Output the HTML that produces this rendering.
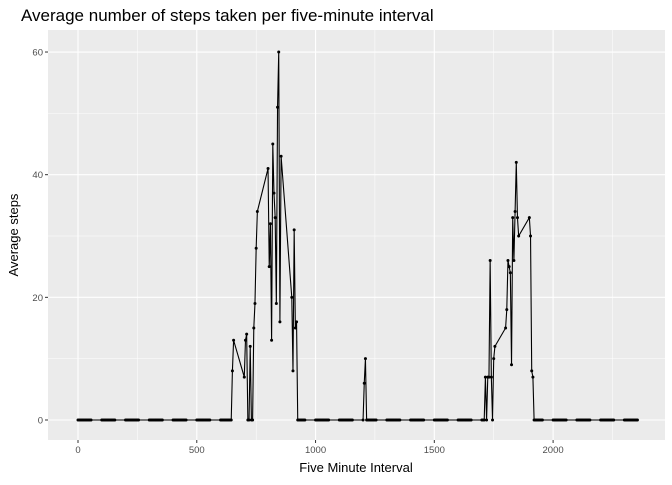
<!DOCTYPE html>
<html><head><meta charset="utf-8"><style>
body{margin:0;background:#fff;font-family:"Liberation Sans",sans-serif}
</style></head><body>
<svg id="c" width="672" height="480" xmlns="http://www.w3.org/2000/svg"></svg>
<script>
const hours=[0,1,2,3,4,5,6,7,8,9,10,11,12,13,14,15,16,17,18,19,20,21,22,23];
const minutes=[0,5,10,15,20,25,30,35,40,45,50,55];
const stepsByHour=[
[0,0,0,0,0,0,0,0,0,0,0,0],[0,0,0,0,0,0,0,0,0,0,0,0],[0,0,0,0,0,0,0,0,0,0,0,0],
[0,0,0,0,0,0,0,0,0,0,0,0],[0,0,0,0,0,0,0,0,0,0,0,0],[0,0,0,0,0,0,0,0,0,0,0,0],
[0,0,0,0,0,0,0,0,0,0,8,13],
[7,13,14,0,0,12,0,0,15,19,28,34],
[41,25,32,13,45,37,33,19,51,60,16,43],
[20,8,31,15,16,0,0,0,0,0,0,0],
[0,0,0,0,0,0,0,0,0,0,0,0],[0,0,0,0,0,0,0,0,0,0,0,0],
[0,6,10,0,0,0,0,0,0,0,0,0],
[0,0,0,0,0,0,0,0,0,0,0,0],[0,0,0,0,0,0,0,0,0,0,0,0],[0,0,0,0,0,0,0,0,0,0,0,0],[0,0,0,0,0,0,0,0,0,0,0,0],
[0,0,0,7,0,7,7,26,7,0,10,12],
[15,18,26,25,24,9,33,26,34,42,33,30],
[33,30,8,7,0,0,0,0,0,0,0,0],
[0,0,0,0,0,0,0,0,0,0,0,0],[0,0,0,0,0,0,0,0,0,0,0,0],[0,0,0,0,0,0,0,0,0,0,0,0],[0,0,0,0,0,0,0,0,0,0,0,0]];
const xTicks=[0,500,1000,1500,2000];
const yTicks=[0,20,40,60];

const svg=document.getElementById('c');
const NS='http://www.w3.org/2000/svg';
const L=48,R=665,T=30,B=440;
const xs=v=>78+v*0.23755;
const ys=v=>420-v*6.133;
function mk(tag,attrs,parent){const e=document.createElementNS(NS,tag);for(const k in attrs)e.setAttribute(k,attrs[k]);(parent||svg).appendChild(e);return e;}
const panel=mk('rect',{x:L,y:T,width:R-L,height:B-T,fill:'#EBEBEB'});


const grid=mk('g',{});


for(let i=0;i<xTicks.length;i++){const v=xTicks[i];
 mk('line',{x1:xs(v),x2:xs(v),y1:T,y2:B,stroke:'#fff','stroke-width':1.1},grid);
 mk('line',{x1:xs(v+250),x2:xs(v+250),y1:T,y2:B,stroke:'#fff','stroke-width':0.5},grid);}
for(let i=0;i<yTicks.length;i++){const v=yTicks[i];
 mk('line',{x1:L,x2:R,y1:ys(v),y2:ys(v),stroke:'#fff','stroke-width':1.1},grid);
 if(i<yTicks.length-1)mk('line',{x1:L,x2:R,y1:ys(v+10),y2:ys(v+10),stroke:'#fff','stroke-width':0.5},grid);}
const pts=[];
for(let h=0;h<hours.length;h++)for(let m=0;m<minutes.length;m++)pts.push([hours[h]*100+minutes[m],stepsByHour[h][m]]);
const line=mk('polyline',{points:pts.map(p=>xs(p[0])+','+ys(p[1])).join(' '),fill:'none',stroke:'#000','stroke-width':1.1});


const dots=mk('g',{});


for(const p of pts){const c=mk('circle',{cx:xs(p[0]),cy:ys(p[1]),r:1.5,fill:'#000'},dots);
 
 }
for(const v of xTicks){
 mk('line',{x1:xs(v),x2:xs(v),y1:B,y2:B+3,stroke:'#333'});
 const t=mk('text',{x:xs(v),y:B+13,'font-size':9.5,fill:'#4D4D4D','text-anchor':'middle'});t.textContent=v;
 
 }
for(const v of yTicks){
 mk('line',{x1:L-3,x2:L,y1:ys(v),y2:ys(v),stroke:'#333'});
 const t=mk('text',{x:L-5,y:ys(v)+3.5,'font-size':9.5,fill:'#4D4D4D','text-anchor':'end'});t.textContent=v;
 
 }
</script>
<svg width="672" height="480" style="position:absolute;left:0;top:0" xmlns="http://www.w3.org/2000/svg">
<text x="21" y="21" font-size="17" fill="#000" font-family="Liberation Sans">Average number of steps taken per five-minute interval</text>
<text x="356" y="472" font-size="13" text-anchor="middle" font-family="Liberation Sans">Five Minute Interval</text>
<text transform="translate(18,235) rotate(-90)" font-size="13" text-anchor="middle" font-family="Liberation Sans">Average steps</text>
</svg>
</body></html>
